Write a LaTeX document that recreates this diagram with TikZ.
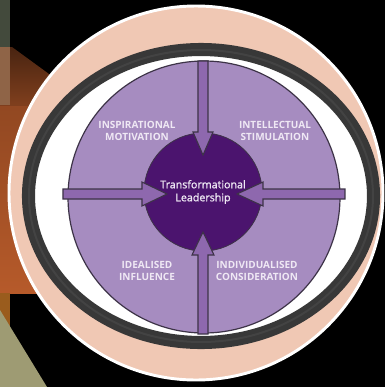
\documentclass[tikz,border=0pt]{standalone}
\usepackage{fontspec}
\setmainfont{Open Sans}
\newfontfamily\corefont[FakeBold=1.2]{Open Sans}
\definecolor{peach}{HTML}{F0C8B4}
\definecolor{ringgrey}{HTML}{383838}
\definecolor{ringlight}{HTML}{434343}
\definecolor{lavender}{HTML}{A68CC0}
\definecolor{arrowpurple}{HTML}{8E68AE}
\definecolor{corepurple}{HTML}{4B146E}
\definecolor{edgegrey}{HTML}{3D3347}
\definecolor{labelwhite}{HTML}{EFE8F4}
\definecolor{olivedark}{HTML}{434A3C}
\definecolor{olivelight}{HTML}{9E9B73}
\definecolor{rust}{HTML}{B65A2A}
\begin{document}
\begin{tikzpicture}[x=0.75pt, y=-0.75pt,
    quadlabel/.style={text=labelwhite, font=\bfseries\fontsize{7.5}{9.25}\selectfont, align=center},
    fatarrow/.style={fill=arrowpurple, draw=edgegrey, line width=0.8pt, line join=miter}]
    % Background
    \fill[black] (0,0) rectangle (385,387);
    \useasboundingbox (0,0) rectangle (385,387);

    % Slide decoration on the left
    \fill[top color=rust!80!black, bottom color=rust] (0,105) rectangle (60,293);
    \fill[top color=rust!40!black, bottom color=rust!70!black]
        (0,47) -- (12,47) -- (60,82) -- (60,105) -- (0,105) -- cycle;
    \fill[olivedark] (0,0) rectangle (10,47);
    \fill[olivedark!45!rust!90!white] (0,47) rectangle (10,105);
    \fill[rust!85!yellow!80!black] (0,293) rectangle (10,330);
    \fill[olivelight] (0,310) -- (47,387) -- (0,387) -- cycle;

    % Outer disc
    \draw[fill=peach, draw=white, line width=2.2pt] (196,193) circle [radius=187];

    % Dark ring
    \fill[white] (201,196) ellipse [x radius=172.5, y radius=146.5];
    \draw[ringgrey, line width=9.8pt] (201,196) ellipse [x radius=172.5, y radius=146.5];
    \draw[ringlight, line width=1.5pt] (201,196) ellipse [x radius=172, y radius=146];

    % Wheel and core
    \node[circle, fill=lavender, draw=edgegrey, line width=0.9pt,
          minimum size=204pt, inner sep=0pt] (wheel) at (204,197) {};
    \node[circle, fill=corepurple, draw=edgegrey, line width=0.6pt,
          minimum size=88.5pt, inner sep=0pt] (core) at (203,192) {};

    % Four arrows into the core
    \draw[fatarrow] (198,61) -- (198,132) -- (193,132) -- (203,155)
        -- (213,132) -- (208,132) -- (208,61) -- cycle;
    \draw[fatarrow] (198,334) -- (198,255) -- (192,255) -- (203,232)
        -- (214,255) -- (208,255) -- (208,334) -- cycle;
    \draw[fatarrow] (63,189) -- (142,189) -- (142,182) -- (167,194)
        -- (142,206) -- (142,199) -- (63,199) -- cycle;
    \draw[fatarrow] (345,189) -- (263,189) -- (263,182) -- (237,194)
        -- (263,206) -- (263,199) -- (345,199) -- cycle;

    % Labels
    \node[text=labelwhite, font=\corefont\fontsize{8}{9.75}\selectfont, align=center]
        (title) at (core) {Transformational\\Leadership};
    \node[quadlabel] (inspire) at (137,131) {INSPIRATIONAL\\MOTIVATION};
    \node[quadlabel] (intellect) at (275,131) {INTELLECTUAL\\STIMULATION};
    \node[quadlabel] (ideal) at (147,271) {IDEALISED\\INFLUENCE};
    \node[quadlabel] (individual) at (257,271) {INDIVIDUALISED\\CONSIDERATION};
\end{tikzpicture}
\end{document}
